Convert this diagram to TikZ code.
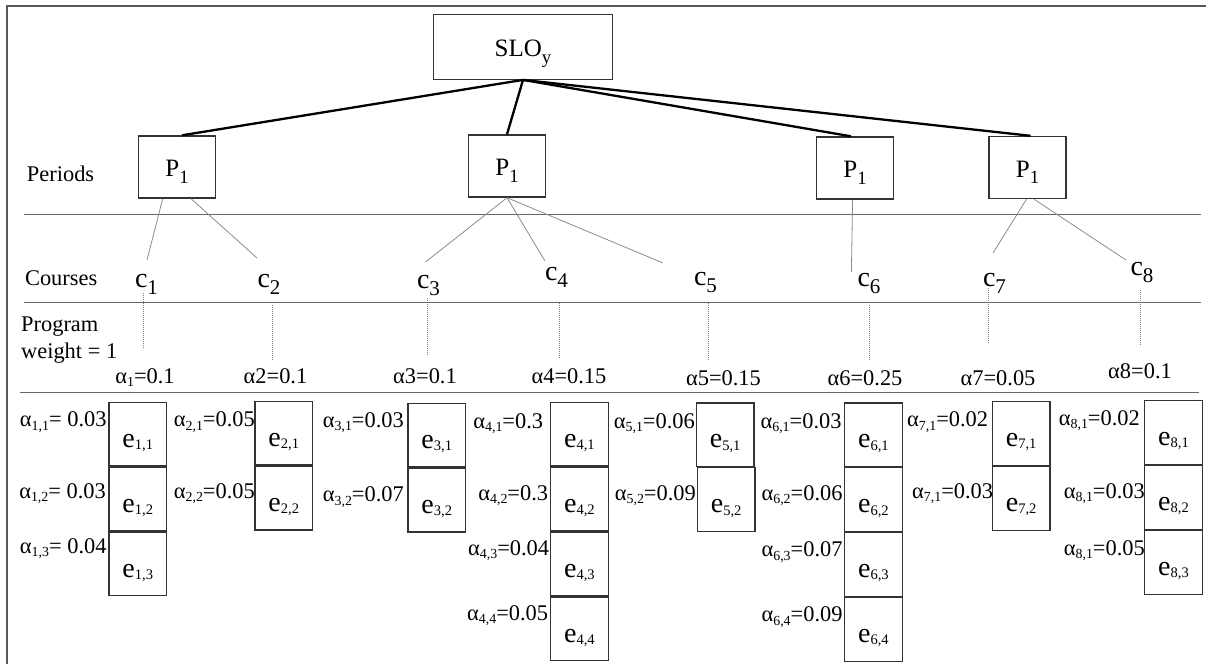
\documentclass[tikz,border=0pt]{standalone}
\usepackage{fontspec}
\setmainfont{Liberation Serif}
\usepackage{graphicx}
\usetikzlibrary{calc}

% lowered, reduced subscripts for the three label families
\newcommand{\subL}[1]{\raisebox{-0.26em}{\scalebox{0.75}{#1}}}
\newcommand{\subA}[1]{\raisebox{-0.15em}{\scalebox{0.62}{#1}}}
\newcommand{\subE}[1]{\raisebox{-0.08em}{\scalebox{0.52}{#1}}}

\begin{document}
\begin{tikzpicture}[x=1pt,y=-1pt,
  frame/.style={draw=black!65, line width=1.5pt},
  sep/.style={draw=black!60, line width=1pt},
  heavy/.style={draw=black, line width=2.3pt},
  twig/.style={draw=black!45, line width=0.8pt},
  dotl/.style={draw=black!50, line width=0.8pt, dash pattern=on 1pt off 1pt},
  topbox/.style={draw=black!80, line width=1.4pt, minimum width=179pt, minimum height=65pt,
    inner sep=0pt, text height=20pt, text depth=0pt, font=\fontsize{25}{30}\selectfont},
  pbox/.style={draw=black!80, line width=1.4pt, minimum width=77pt, minimum height=62pt,
    inner sep=0pt, text height=19.4pt, text depth=0pt, font=\fontsize{25}{30}\selectfont},
  ebox/.style={draw=black!80, line width=1.2pt, minimum width=57.7pt, minimum height=63.7pt,
    inner sep=0pt, text height=26.3pt, text depth=0pt, font=\fontsize{28}{32}\selectfont},
  hdr/.style={inner sep=0pt, anchor=base west, font=\fontsize{22.4}{27}\selectfont},
  clbl/.style={inner sep=0pt, anchor=base, text height=14pt, text depth=6pt,
    font=\fontsize{28}{32}\selectfont},
  wlbl/.style={inner sep=0pt, anchor=base, text height=15pt, text depth=5pt,
    font=\fontsize{22.4}{27}\selectfont},
  albl/.style={inner sep=0pt, anchor=base east, font=\fontsize{22.4}{27}\selectfont}
]
\useasboundingbox (0,0) rectangle (1206,664);

% outer frame (top and left sides)
\draw[frame] (7,664) -- (7,6) -- (1206,6);

% row separators
\draw[sep] (24,214) -- (1201,214);
\draw[sep] (24,302) -- (1201,302);
\draw[sep] (20,392.7) -- (1199,392.7);

% row headings
\node[hdr] (hper) at (26.8,181.7) {Periods};
\node[hdr] (hcou) at (24.9,285) {Courses};
\node[hdr] (hpro) at (21,331) {Program};
\node[hdr] (hwei) at (21,358) {weight = 1};

% outcome and periods
\node[topbox] (slo) at (523,46.7) {SLO\subL{y}};
\node[pbox] (pa) at (177,167) {P\subL{1}};
\node[pbox] (pb) at (507,166) {P\subL{1}};
\node[pbox] (pc) at (855,168) {P\subL{1}};
\node[pbox] (pd) at (1027.5,167.5) {P\subL{1}};

\draw[heavy] (slo.south) -- ([xshift=5pt]pa.north);
\draw[heavy] (slo.south) -- (pb.north);
\draw[heavy] (slo.south) -- ([xshift=-4pt]pc.north);
\draw[heavy] (slo.south) -- ([xshift=3pt]pd.north);

% courses
\node[clbl] (c1) at (146.5,287) {c\subL{1}};
\node[clbl] (c2) at (269,287) {c\subL{2}};
\node[clbl] (c3) at (428.5,288) {c\subL{3}};
\node[clbl] (c4) at (556.5,280) {c\subL{4}};
\node[clbl] (c5) at (705.5,285) {c\subL{5}};
\node[clbl] (c6) at (869,286) {c\subL{6}};
\node[clbl] (c7) at (994.5,286) {c\subL{7}};
\node[clbl] (c8) at (1142,275) {c\subL{8}};

\draw[twig] ([xshift=-14.3pt]pa.south) -- ($(c1.base)+(0.5,-27)$);
\draw[twig] ([xshift=14pt]pa.south) -- ($(c2.base)+(-12,-29)$);
\draw[twig] (pb.south) -- ($(c3.base)+(-3,-26)$);
\draw[twig] (pb.south) -- ($(c4.base)+(-11.5,-19)$);
\draw[twig] (pb.south) -- ($(c5.base)+(-42.5,-22)$);
\draw[twig] ([xshift=-2.4pt]pc.south) -- ($(c6.base)+(-17.6,-14)$);
\draw[twig] ([xshift=-1pt]pd.south) -- ($(c7.base)+(-1.5,-33)$);
\draw[twig] ([xshift=6.5pt]pd.south) -- ($(c8.base)+(-16,-15)$);

% program weights
\node[wlbl] (w1) at (145,383) {α\subA{1}=0.1};
\node[wlbl] (w2) at (275.5,383) {α2=0.1};
\node[wlbl] (w3) at (425,383) {α3=0.1};
\node[wlbl] (w4) at (569,383) {α4=0.15};
\node[wlbl] (w5) at (723.5,385) {α5=0.15};
\node[wlbl] (w6) at (865,385) {α6=0.25};
\node[wlbl] (w7) at (998,385.7) {α7=0.05};
\node[wlbl] (w8) at (1140,378) {α8=0.1};

\draw[dotl] ($(c1.base)+(-3,6)$) -- ++(0,55);
\draw[dotl] ($(c2.base)+(3.5,18)$) -- ++(0,55);
\draw[dotl] ($(c3.base)+(-1,10)$) -- ++(0,57);
\draw[dotl] ($(c4.base)+(3,23)$) -- ++(0,55);
\draw[dotl] ($(c5.base)+(2.5,18)$) -- ++(0,57);
\draw[dotl] ($(c6.base)+(0,19)$) -- ++(0,55);
\draw[dotl] ($(c7.base)+(-6,2)$) -- ++(0,55);
\draw[dotl] ($(c8.base)+(-2,15)$) -- ++(0,55);

% evidence boxes
\node[ebox, anchor=north west] (e11) at (108.3,401.7) {e\subE{1,1}};
\node[ebox, anchor=north] (e12) at (e11.south) {e\subE{1,2}};
\node[ebox, anchor=north] (e13) at (e12.south) {e\subE{1,3}};

\node[ebox, anchor=north west] (e21) at (254.3,400.7) {e\subE{2,1}};
\node[ebox, anchor=north] (e22) at (e21.south) {e\subE{2,2}};

\node[ebox, anchor=north west] (e31) at (407.3,402.7) {e\subE{3,1}};
\node[ebox, anchor=north] (e32) at (e31.south) {e\subE{3,2}};

\node[ebox, anchor=north west] (e41) at (550,401.7) {e\subE{4,1}};
\node[ebox, anchor=north] (e42) at (e41.south) {e\subE{4,2}};
\node[ebox, anchor=north] (e43) at (e42.south) {e\subE{4,3}};
\node[ebox, anchor=north] (e44) at (e43.south) {e\subE{4,4}};

\node[ebox, anchor=north west] (e51) at (695.7,402.3) {e\subE{5,1}};
\node[ebox, anchor=north] (e52) at ([xshift=1pt]e51.south) {e\subE{5,2}};

\node[ebox, anchor=north west] (e61) at (844,402.3) {e\subE{6,1}};
\node[ebox, anchor=north] (e62) at (e61.south) {e\subE{6,2}};
\node[ebox, anchor=north] (e63) at (e62.south) {e\subE{6,3}};
\node[ebox, anchor=north] (e64) at (e63.south) {e\subE{6,4}};

\node[ebox, anchor=north west] (e71) at (991.7,401) {e\subE{7,1}};
\node[ebox, anchor=north] (e72) at (e71.south) {e\subE{7,2}};

\node[ebox, anchor=north west] (e81) at (1144,400) {e\subE{8,1}};
\node[ebox, anchor=north] (e82) at (e81.south) {e\subE{8,2}};
\node[ebox, anchor=north] (e83) at (e82.south) {e\subE{8,3}};

% evidence weights
\node[albl] (a11) at (106.7,426.7) {α\subA{1,1}= 0.03};
\node[albl] (a12) at (106,498.3) {α\subA{1,2}= 0.03};
\node[albl] (a13) at (106.7,553.3) {α\subA{1,3}= 0.04};
\node[albl] (a21) at (255,426.7) {α\subA{2,1}=0.05};
\node[albl] (a22) at (255,498.3) {α\subA{2,2}=0.05};
\node[albl] (a31) at (404,427.5) {α\subA{3,1}=0.03};
\node[albl] (a32) at (404,501.7) {α\subA{3,2}=0.07};
\node[albl] (a41) at (543.3,428.3) {α\subA{4,1}=0.3};
\node[albl] (a42) at (548.3,500) {α\subA{4,2}=0.3};
\node[albl] (a43) at (549.3,555) {α\subA{4,3}=0.04};
\node[albl] (a44) at (548.3,620) {α\subA{4,4}=0.05};
\node[albl] (a51) at (695,428.3) {α\subA{5,1}=0.06};
\node[albl] (a52) at (696,500) {α\subA{5,2}=0.09};
\node[albl] (a61) at (841.7,428.3) {α\subA{6,1}=0.03};
\node[albl] (a62) at (842.7,500) {α\subA{6,2}=0.06};
\node[albl] (a63) at (842.7,556.7) {α\subA{6,3}=0.07};
\node[albl] (a64) at (842.7,621.7) {α\subA{6,4}=0.09};
\node[albl] (a71) at (988.3,426.7) {α\subA{7,1}=0.02};
\node[albl] (a72) at (993.3,498.3) {α\subA{7,1}=0.03};
\node[albl] (a81) at (1140,425) {α\subA{8,1}=0.02};
\node[albl] (a82) at (1145,498.3) {α\subA{8,1}=0.03};
\node[albl] (a83) at (1145,555) {α\subA{8,1}=0.05};
\end{tikzpicture}
\end{document}
